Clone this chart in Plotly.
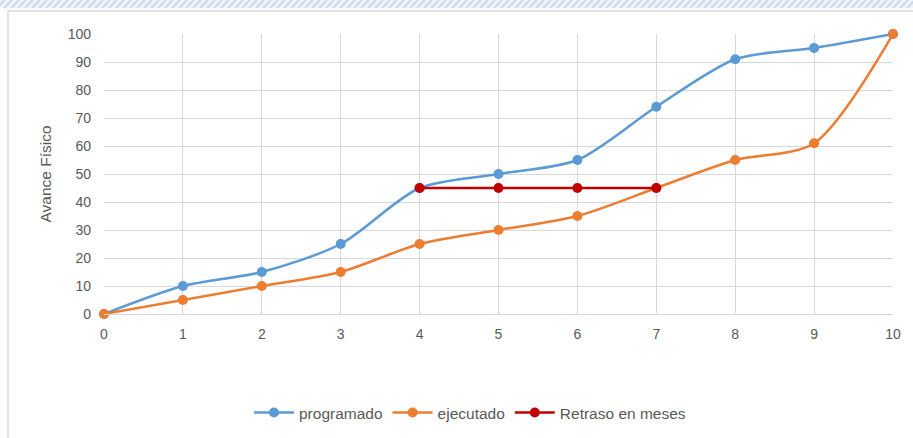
import plotly.graph_objects as go

meses = [0, 1, 2, 3, 4, 5, 6, 7, 8, 9, 10]
programado = [0, 10, 15, 25, 45, 50, 55, 74, 91, 95, 100]
ejecutado = [0, 5, 10, 15, 25, 30, 35, 45, 55, 61, 100]
retraso_x = [4, 5, 6, 7]
retraso_y = [45, 45, 45, 45]
y_ticks = [0, 10, 20, 30, 40, 50, 60, 70, 80, 90, 100]

W, H = 913, 438
fig = go.Figure()
fig.add_trace(go.Scatter(x=meses, y=programado, name="programado", mode="lines+markers",
                         line=dict(color="#5B9BD5", width=2.5, shape="spline", smoothing=0.8),
                         marker=dict(size=10, color="#5B9BD5"), cliponaxis=False))
fig.add_trace(go.Scatter(x=meses, y=ejecutado, name="ejecutado", mode="lines+markers",
                         line=dict(color="#ED7D31", width=2.5, shape="spline", smoothing=0.8),
                         marker=dict(size=10, color="#ED7D31"), cliponaxis=False))
fig.add_trace(go.Scatter(x=retraso_x, y=retraso_y, name="Retraso en meses", mode="lines+markers",
                         line=dict(color="#C00000", width=2.5),
                         marker=dict(size=10, color="#C00000"), cliponaxis=False))

font = "Liberation Sans, Arial"
shapes = []
# top hatched band
shapes.append(dict(type="rect", xref="paper", yref="paper", x0=0, x1=1, y0=(H-8)/H, y1=1,
                   fillcolor="#EEF3FA", line=dict(width=0), layer="below"))
for i in range(-10, W + 10, 7):
    shapes.append(dict(type="line", xref="paper", yref="paper",
                       x0=i / W, x1=(i + 8) / W, y0=(H - 8) / H, y1=1,
                       line=dict(color="#C9D8EC", width=2), layer="below"))
# outer chart border
shapes.append(dict(type="rect", xref="paper", yref="paper", x0=8 / W, x1=1.01, y0=-0.01, y1=(H - 11) / H,
                   line=dict(color="#D9D9D9", width=1.5), layer="below"))

fig.update_layout(
    width=W, height=H,
    margin=dict(l=0, r=0, t=0, b=0, pad=0, autoexpand=False),
    paper_bgcolor="white", plot_bgcolor="white",
    font=dict(family=font, size=14, color="#595959"),
    shapes=shapes,
    showlegend=True,
    legend=dict(orientation="h", x=470 / W, xanchor="center", y=25 / H, yanchor="middle",
                font=dict(family=font, size=15.5, color="#595959"), itemwidth=40),
    xaxis=dict(domain=[104 / W, 893 / W], range=[0, 10], tickvals=meses, showgrid=True,
               gridcolor="#D9D9D9", gridwidth=1, zeroline=False, showline=True, linecolor="#D9D9D9",
               ticks="", ticklabelstandoff=7, fixedrange=True, automargin=False,
               tickfont=dict(size=14)),
    yaxis=dict(domain=[(H - 314) / H, (H - 34) / H], range=[0, 100], tickvals=y_ticks, showgrid=True,
               gridcolor="#D9D9D9", gridwidth=1, zeroline=False, showline=False, ticks="",
               ticklabelstandoff=12, automargin=False, tickfont=dict(size=14), fixedrange=True,
               title=dict(text="Avance Físico", font=dict(family=font, size=15.5, color="#595959"), standoff=12)),
)
fig.write_html("out.html", config={"displayModeBar": False},
               post_script="document.body.style.margin='0';document.body.style.padding='0';")
